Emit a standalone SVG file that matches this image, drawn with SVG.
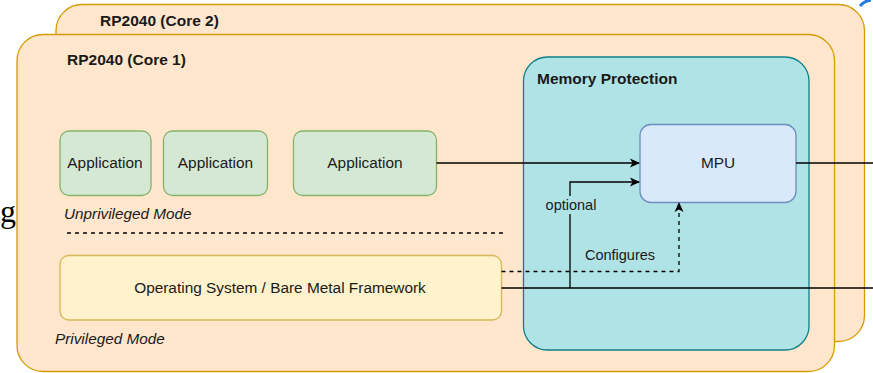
<svg xmlns="http://www.w3.org/2000/svg" width="873" height="373" viewBox="0 0 873 373">
<style>
.core{fill:#ffe6cc;stroke:#d79b00;stroke-width:1.3}
.mp{fill:#b0e3e6;stroke:#0e8088;stroke-width:1.3}
.app{fill:#d5e8d4;stroke:#82b366;stroke-width:1.3}
.mpu{fill:#dae8fc;stroke:#6c8ebf;stroke-width:1.3}
.os{fill:#fff2cc;stroke:#d6b656;stroke-width:1.3}
text{font-family:"Liberation Sans",Arial,sans-serif;font-size:15.4px;fill:#1a1a1a}
.b{font-weight:bold;font-size:15.5px}
.i{font-style:italic;font-size:15.3px}
.c{text-anchor:middle}
.ln{fill:none;stroke:#000;stroke-width:1.3}
.d{stroke-dasharray:4 4}
</style>
<defs>
<marker id="arr" viewBox="0 0 10 10" refX="9" refY="5" markerWidth="10" markerHeight="10" markerUnits="userSpaceOnUse" orient="auto">
<path d="M0,0.5 L10,5 L0,9.5 L2.5,5 Z" fill="#000"/>
</marker>
</defs>
<text x="0" y="222" style="font-family:'Liberation Serif',serif;font-size:32px;fill:#000">g</text>
<path d="M860,6 Q864,1 871,0" fill="none" stroke="#1f7ae0" stroke-width="3"/>
<g id="core2">
<rect class="core" x="56" y="4.5" width="808.5" height="337" rx="26"/>
<text class="b" x="100" y="26">RP2040 (Core 2)</text>
</g>
<g id="core1">
<rect class="core" x="17" y="34.5" width="817.5" height="337" rx="26"/>
<text class="b" x="67" y="65">RP2040 (Core 1)</text>
</g>
<g id="memprot">
<rect class="mp" x="523.5" y="57" width="285.5" height="293" rx="24"/>
<text class="b" x="537" y="84">Memory Protection</text>
</g>
<g id="app1">
<rect class="app" x="60" y="131" width="91" height="64.5" rx="9"/>
<text class="c" x="105" y="168">Application</text>
</g>
<g id="app2">
<rect class="app" x="163.5" y="131" width="104" height="64.5" rx="9"/>
<text class="c" x="215.5" y="168">Application</text>
</g>
<g id="app3">
<rect class="app" x="293.5" y="131" width="143" height="64.5" rx="9"/>
<text class="c" x="365" y="168">Application</text>
</g>
<g id="mpu">
<rect class="mpu" x="640" y="124.5" width="156" height="78" rx="11"/>
<text class="c" x="718" y="168">MPU</text>
</g>
<g id="os">
<rect class="os" x="60" y="255.5" width="441.5" height="64.5" rx="9"/>
<text class="c" x="280" y="293">Operating System / Bare Metal Framework</text>
</g>
<g id="labels">
<text class="i" x="64" y="219">Unprivileged Mode</text>
<text class="i" x="55" y="344">Privileged Mode</text>
</g>
<g id="connectors">
<line class="ln d" x1="67" y1="233" x2="507" y2="233"/>
<line class="ln" x1="436.5" y1="163" x2="639" y2="163" marker-end="url(#arr)"/>
<line class="ln" x1="796" y1="163" x2="873" y2="163"/>
<line class="ln" x1="501.5" y1="288" x2="873" y2="288"/>
<path class="ln" d="M570,288 V182 H639" marker-end="url(#arr)"/>
<path class="ln d" d="M501.5,271.5 H679 V203" marker-end="url(#arr)"/>
<rect x="543" y="196" width="56" height="18" fill="#b0e3e6"/>
<text x="571" y="210" class="c" style="font-size:14.5px">optional</text>
<text x="620" y="260" class="c" style="font-size:14.5px">Configures</text>
</g>
</svg>
